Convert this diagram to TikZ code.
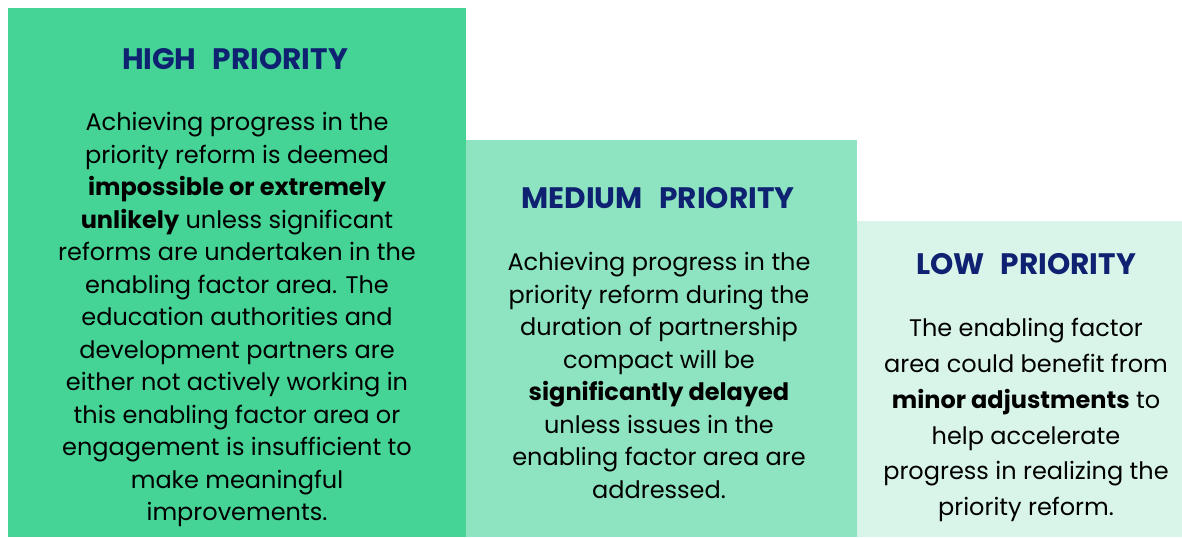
\documentclass[tikz,border=0pt]{standalone}
\usepackage{fontspec}
\setmainfont{Poppins}
\usetikzlibrary{positioning}
\definecolor{highgreen}{HTML}{45D496}
\definecolor{medgreen}{HTML}{8EE4C1}
\definecolor{lowgreen}{HTML}{D9F5EA}
\definecolor{navy}{HTML}{0F2272}
\tikzset{
	title/.style={inner sep=0pt, text=navy, font=\bfseries\fontsize{14.8}{18}\selectfont},
	body/.style={inner sep=0pt, anchor=north, align=center, text=black, font=\fontsize{12}{16.25}\selectfont},
}
\newcommand{\gap}{\hspace{0.55em}}

\begin{document}
\begin{tikzpicture}[x=0.5pt, y=-0.5pt]
		\useasboundingbox (0,0) rectangle (1182,537);
		% the three steps
		\fill[highgreen] (8,8) rectangle (466,537);
		\fill[medgreen] (466,140) rectangle (857,537);
		\fill[lowgreen] (857,221) rectangle (1182,537);
		
		\node (hightitle) [title] at (235,59) {HIGH\gap PRIORITY};
		\node (medtitle) [title] at (658,198) {MEDIUM\gap PRIORITY};
		\node (lowtitle) [title] at (1026,264) {LOW\gap PRIORITY};
		
		\node (highbody) [body] at (237,112) {Achieving progress in the\\
			priority reform is deemed\\
			\textbf{impossible or extremely}\\
			\textbf{unlikely} unless significant\\
			reforms are undertaken in the\\
			enabling factor area. The\\
			education authorities and\\
			development partners are\\
			either not actively working in\\
			this enabling factor area or\\
			engagement is insufficient to\\
			make meaningful\\
			improvements.};
		\node (medbody) [body] at (659,252) {Achieving progress in the\\
			priority reform during the\\
			duration of partnership\\
			compact will be\\
			\textbf{significantly delayed}\\
			unless issues in the\\
			enabling factor area are\\
			addressed.};
		\node (lowbody) [body, font=\fontsize{12}{17.9}\selectfont] at (1026,318) {The enabling factor\\
			area could benefit from\\
			\textbf{minor adjustments} to\\
			help accelerate\\
			progress in realizing the\\
			priority reform.};
	\end{tikzpicture}
\end{document}
